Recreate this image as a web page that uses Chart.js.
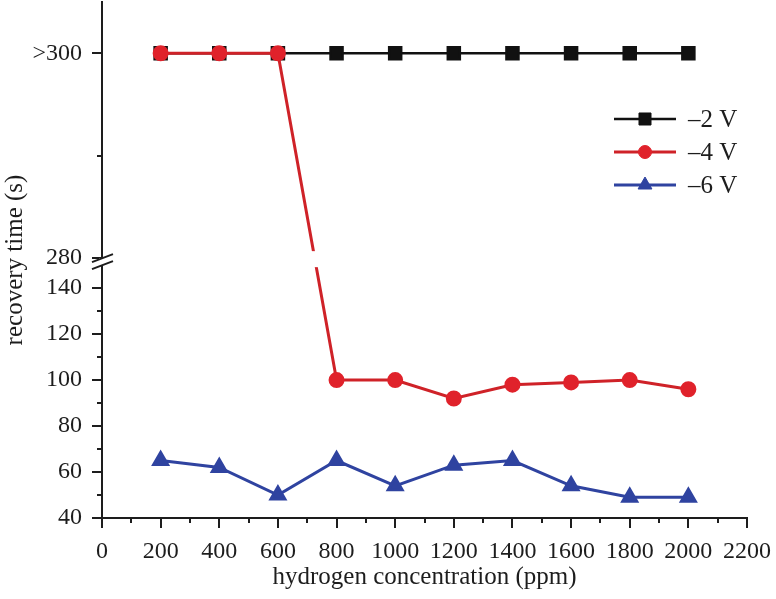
<!DOCTYPE html>
<html>
<head>
<meta charset="utf-8">
<script src="https://cdn.jsdelivr.net/npm/chart.js@4.4.1/dist/chart.umd.min.js"></script>
<style>
  html, body { margin: 0; padding: 0; background: #fff; }
  canvas { display: block; }
</style>
</head>
<body>
<canvas id="chart" width="776" height="599"></canvas>
<script>
// data
const concentration = [200, 400, 600, 800, 1000, 1200, 1400, 1600, 1800, 2000];
const minus2V = [300, 300, 300, 300, 300, 300, 300, 300, 300, 300];
const minus4V = [300, 300, 300, 100, 100, 92, 98, 99, 100, 96];
const minus6V = [65, 62, 50, 65, 54, 63, 65, 54, 49, 49];
const seriesNames = ['\u20132 V', '\u20134 V', '\u20136 V'];

const yTickValues = [40, 50, 60, 70, 80, 90, 100, 110, 120, 130, 140, 280, 290, 300];
const yTickLabels = ['40', '', '60', '', '80', '', '100', '', '120', '', '140', '280', '', '>300'];

// broken y axis: lower band 40-150, upper band 280-305
const lowMin = 40, lowMax = 150, highMin = 280, highMax = 305;
const LOW_FRAC = 0.490, GAP_FRAC = 0.0136;

const ink = '#1d1d1d';
const colors = {
    black: '#111111',
    red: '#e0222b',
    redLine: '#cf2228',
    blue: '#2f43a0'
};

class BrokenLinearScale extends Chart.LinearScale {
    buildTicks() {
        return yTickValues.map(v => ({ value: v }));
    }
    getPixelForValue(value) {
        let d;
        if (value <= lowMax) {
            d = (value - lowMin) / (lowMax - lowMin) * LOW_FRAC;
        } else {
            d = LOW_FRAC + GAP_FRAC + (value - highMin) / (highMax - highMin) * (1 - LOW_FRAC - GAP_FRAC);
        }
        return this.getPixelForDecimal(d);
    }
    getValueForPixel(pixel) {
        const d = this.getDecimalForPixel(pixel);
        if (d <= LOW_FRAC) return lowMin + d / LOW_FRAC * (lowMax - lowMin);
        return highMin + (d - LOW_FRAC - GAP_FRAC) / (1 - LOW_FRAC - GAP_FRAC) * (highMax - highMin);
    }
}
BrokenLinearScale.id = 'brokenLinear';
BrokenLinearScale.defaults = {};
Chart.register(BrokenLinearScale);

Chart.defaults.font.family = "'Liberation Serif', 'Times New Roman', serif";
Chart.defaults.font.size = 24;
Chart.defaults.color = ink;

const toPoints = vals => concentration.map((x, i) => ({ x: x, y: vals[i] }));

const noPadding = scale => {
    scale.paddingTop = 0;
    scale.paddingBottom = 0;
    scale.paddingLeft = 0;
    scale.paddingRight = 0;
};

// tick marks, axis break and red-line gap
const axisDecor = {
    id: 'axisDecor',
    afterDatasetsDraw(chart) {
        const { ctx, chartArea, scales: { y } } = chart;
        const top = y.getPixelForValue(highMin) - 7;
        const bottom = y.getPixelForValue(lowMax) + 2;
        ctx.save();
        ctx.fillStyle = '#fff';
        ctx.fillRect(chartArea.left + 3, top, chartArea.right - chartArea.left, bottom - top);
        ctx.restore();
    },
    afterDraw(chart) {
        const { ctx, chartArea, scales: { x, y } } = chart;
        ctx.save();
        ctx.strokeStyle = ink;
        ctx.lineWidth = 2;
        ctx.beginPath();
        yTickValues.forEach((v, i) => {
            const py = Math.round(y.getPixelForValue(v));
            const len = yTickLabels[i] ? 10 : 5;
            ctx.moveTo(chartArea.left, py);
            ctx.lineTo(chartArea.left - len, py);
        });
        x.ticks.forEach(t => {
            const px = Math.round(x.getPixelForValue(t.value));
            const len = t.value % 200 === 0 ? 10 : 5;
            ctx.moveTo(px, chartArea.bottom);
            ctx.lineTo(px, chartArea.bottom + len);
        });
        ctx.stroke();

        // axis break
        const yHi = y.getPixelForValue(highMin);
        const yLo = y.getPixelForValue(lowMax);
        ctx.fillStyle = '#fff';
        ctx.fillRect(chartArea.left - 3, yHi, 6, yLo - yHi);
        ctx.beginPath();
        [yHi, yLo].forEach(py => {
            ctx.moveTo(chartArea.left - 10, py + 4);
            ctx.lineTo(chartArea.left + 11, py - 4);
        });
        ctx.stroke();
        ctx.restore();
    }
};

// legend: line with marker in the middle
const lineLegend = {
    id: 'lineLegend',
    afterDraw(chart, args, opts) {
        const { ctx } = chart;
        ctx.save();
        chart.data.datasets.forEach((ds, i) => {
            const cy = opts.y + i * opts.rowGap;
            ctx.strokeStyle = ds.borderColor;
            ctx.lineWidth = ds.borderWidth;
            ctx.beginPath();
            ctx.moveTo(opts.x, cy);
            ctx.lineTo(opts.x + opts.lineLength, cy);
            ctx.stroke();
            ctx.fillStyle = ds.pointBackgroundColor;
            ctx.strokeStyle = ds.pointBackgroundColor;
            ctx.lineWidth = 1;
            Chart.helpers.drawPoint(ctx, {
                pointStyle: ds.pointStyle,
                radius: ds.pointRadius,
                rotation: 0,
                borderWidth: 1
            }, opts.x + opts.lineLength / 2, cy);
            ctx.fillStyle = ink;
            ctx.font = "25px 'Liberation Serif', serif";
            ctx.textBaseline = 'middle';
            ctx.textAlign = 'left';
            ctx.fillText(ds.label, opts.x + opts.lineLength + 12, cy + 1);
        });
        ctx.restore();
    }
};

const ctx = document.getElementById('chart').getContext('2d');

new Chart(ctx, {
    type: 'line',
    data: {
        datasets: [{
            label: seriesNames[0],
            data: toPoints(minus2V),
            borderColor: colors.black,
            backgroundColor: colors.black,
            pointBackgroundColor: colors.black,
            pointBorderColor: colors.black,
            pointStyle: 'rect',
            pointRadius: 8.5,
            borderWidth: 2.5,
            order: 2
        }, {
            label: seriesNames[1],
            data: toPoints(minus4V),
            borderColor: colors.redLine,
            backgroundColor: colors.red,
            pointBackgroundColor: colors.red,
            pointBorderColor: colors.red,
            pointStyle: 'circle',
            pointRadius: 6.5,
            borderWidth: 3,
            order: 0
        }, {
            label: seriesNames[2],
            data: toPoints(minus6V),
            borderColor: colors.blue,
            backgroundColor: colors.blue,
            pointBackgroundColor: colors.blue,
            pointBorderColor: colors.blue,
            pointStyle: 'triangle',
            pointRadius: 8,
            borderWidth: 3,
            order: 1
        }]
    },
    options: {
        responsive: false,
        animation: false,
        layout: {
            autoPadding: false,
            padding: { left: 0, top: 2, right: 29, bottom: 0 }
        },
        plugins: {
            legend: { display: false },
            tooltip: { enabled: false },
            lineLegend: { x: 614, y: 119, rowGap: 33, lineLength: 62 }
        },
        scales: {
            x: {
                type: 'linear',
                min: 0,
                max: 2200,
                grid: { display: false },
                border: { display: true, color: ink, width: 2 },
                ticks: {
                    stepSize: 100,
                    autoSkip: false,
                    maxRotation: 0,
                    padding: 11,
                    callback: v => (v % 200 === 0 ? String(v) : '')
                },
                title: {
                    display: true,
                    text: 'hydrogen concentration (ppm)',
                    font: { size: 25 },
                    padding: { top: 0, bottom: 7 }
                },
                afterFit: scale => {
                    scale.height = 81;
                    noPadding(scale);
                }
            },
            y: {
                type: 'brokenLinear',
                min: lowMin,
                max: highMax,
                grid: { display: false },
                border: { display: true, color: ink, width: 2 },
                ticks: {
                    autoSkip: false,
                    padding: 12,
                    callback: (v, i) => yTickLabels[i]
                },
                title: {
                    display: true,
                    text: 'recovery time (s)',
                    font: { size: 25 },
                    padding: { top: 0, bottom: 0 }
                },
                afterFit: scale => {
                    scale.width = 102;
                    noPadding(scale);
                }
            }
        }
    },
    plugins: [axisDecor, lineLegend]
});
</script>
</body>
</html>
